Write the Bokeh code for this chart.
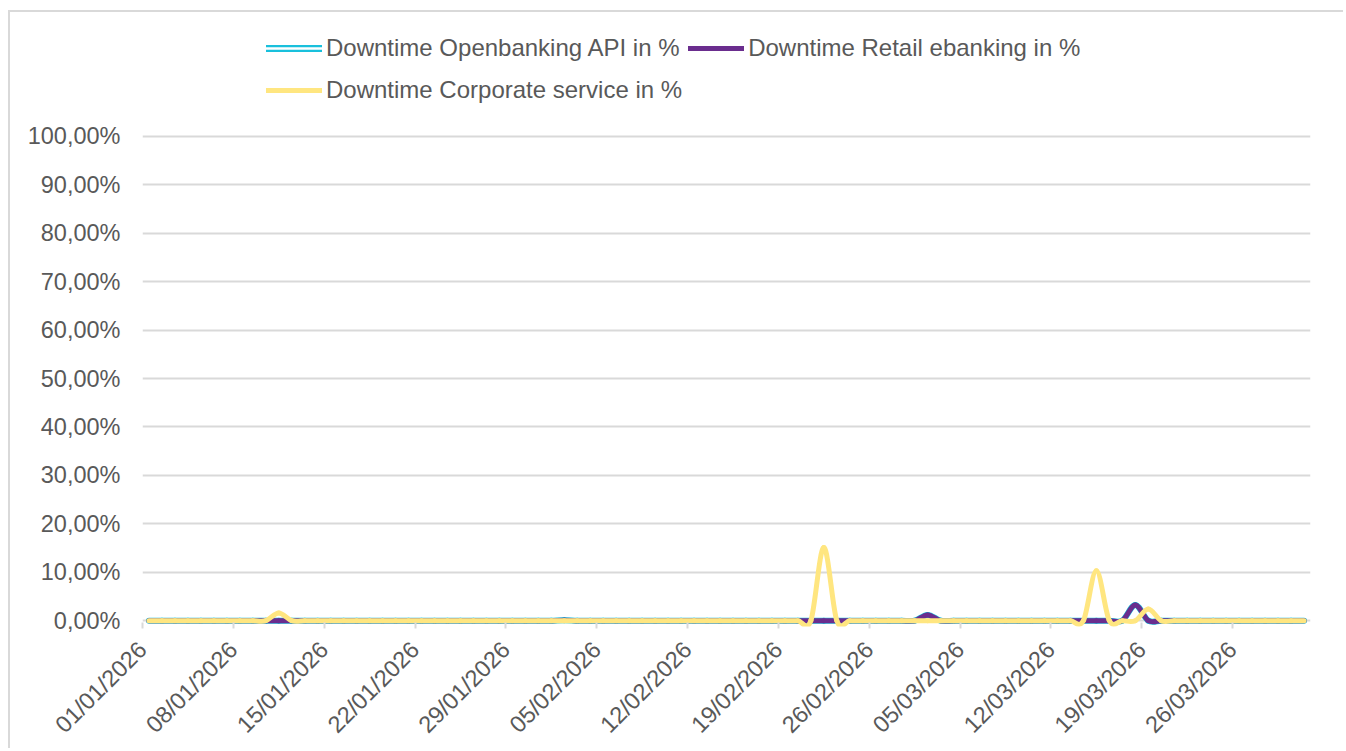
import math
import pandas as pd
from bokeh.plotting import figure
from bokeh.models import (Range1d, FixedTicker, CustomJSTickFormatter, Legend,
                          LegendItem, ColumnDataSource)
from bokeh.embed import file_html
from bokeh.resources import INLINE

# ---------------- data ----------------
dates = [d.strftime("%d/%m/%Y") for d in pd.date_range("2026-01-01", "2026-03-31", freq="D")]

tick_labels = ["01/01/2026", "08/01/2026", "15/01/2026", "22/01/2026", "29/01/2026",
               "05/02/2026", "12/02/2026", "19/02/2026", "26/02/2026", "05/03/2026",
               "12/03/2026", "19/03/2026", "26/03/2026"]

# values in %
openbanking_api = [
    0, 0, 0, 0, 0, 0, 0, 0, 0, 0,
    0, 0, 0, 0, 0, 0, 0, 0, 0, 0,
    0, 0, 0, 0, 0, 0, 0, 0, 0, 0,
    0, 0, 0.1, 0, 0, 0, 0, 0, 0, 0,
    0, 0, 0, 0, 0, 0, 0, 0, 0, 0,
    0, 0, 0, 0, 0, 0, 0, 0, 0, 0,
    1.2, 0, 0, 0, 0, 0, 0, 0, 0, 0,
    0, 0, 0, 0, 0, 0, 3.25, 0, 0, 0,
    0, 0, 0, 0, 0, 0, 0, 0, 0, 0,
]
retail_ebanking = [
    0, 0, 0, 0, 0, 0, 0, 0, 0, 0,
    0, 0, 0, 0, 0, 0, 0, 0, 0, 0,
    0, 0, 0, 0, 0, 0, 0, 0, 0, 0,
    0, 0, 0.1, 0, 0, 0, 0, 0, 0, 0,
    0, 0, 0, 0, 0, 0, 0, 0, 0, 0,
    0, 0, 0, 0, 0, 0, 0, 0, 0, 0,
    1.2, 0, 0, 0, 0, 0, 0, 0, 0, 0,
    0, 0, 0, 0, 0, 0, 3.25, 0, 0, 0,
    0, 0, 0, 0, 0, 0, 0, 0, 0, 0,
]
corporate_service = [
    0, 0, 0, 0, 0, 0, 0, 0, 0, 0,
    1.6, 0, 0, 0, 0, 0, 0, 0, 0, 0,
    0, 0, 0, 0, 0, 0, 0, 0, 0, 0,
    0, 0, 0, 0, 0, 0, 0, 0, 0, 0,
    0, 0, 0, 0, 0, 0, 0, 0, 0, 0,
    0, 0, 15.1, 0, 0, 0, 0, 0, 0, 0,
    0, 0, 0, 0, 0, 0, 0, 0, 0, 0,
    0, 0, 0, 10.3, 0, 0, 0, 2.4, 0, 0,
    0, 0, 0, 0, 0, 0, 0, 0, 0, 0,
]

series_names = ["Downtime Openbanking API in %", "Downtime Retail ebanking in %",
                "Downtime Corporate service in %"]

CYAN = "#19C0DC"
PURPLE = "#6A2D8E"
YELLOW = "#FFE680"
TEXT = "#595959"
GRID = "#D9D9D9"
FONT = "Liberation Sans"


def smooth_source(vals):
    """Excel-like smoothed line as cubic Bezier segments (Catmull-Rom control points)."""
    n = len(vals)
    xs = [i + 0.5 for i in range(n)]          # centre of each day cell
    ex = [xs[0]] + xs + [xs[-1]]
    ey = [vals[0]] + list(vals) + [vals[-1]]
    d = dict(x0=[], y0=[], x1=[], y1=[], cx0=[], cy0=[], cx1=[], cy1=[])
    for i in range(n - 1):
        a, b, c, e = i, i + 1, i + 2, i + 3
        d["x0"].append(ex[b]); d["y0"].append(ey[b])
        d["x1"].append(ex[c]); d["y1"].append(ey[c])
        d["cx0"].append(ex[b] + (ex[c] - ex[a]) / 6.0)
        d["cy0"].append(ey[b] + (ey[c] - ey[a]) / 6.0)
        d["cx1"].append(ex[c] - (ex[e] - ex[b]) / 6.0)
        d["cy1"].append(ey[c] - (ey[e] - ey[b]) / 6.0)
    return ColumnDataSource(d)


p = figure(width=1335, height=738,
           x_range=Range1d(0, len(dates)), y_range=Range1d(-1.2, 125.6),
           output_backend="svg", toolbar_location=None,
           min_border_left=132, min_border_right=35,
           min_border_top=0, min_border_bottom=122)
p.styles = {"border-top": "2px solid #D9D9D9", "border-left": "2px solid #D9D9D9",
            "margin-top": "10px", "margin-left": "8px"}
p.outline_line_color = None
p.background_fill_color = "white"
p.border_fill_color = "white"

# grid
p.xgrid.visible = False
p.ygrid.ticker = FixedTicker(ticks=list(range(0, 101, 10)))
p.ygrid.grid_line_color = GRID
p.ygrid.grid_line_width = 2

# y axis
p.yaxis.ticker = FixedTicker(ticks=list(range(0, 101, 10)))
p.yaxis.formatter = CustomJSTickFormatter(code="return tick.toFixed(2).replace('.', ',') + '%';")
p.yaxis.axis_line_color = None
p.yaxis.major_tick_line_color = None
p.yaxis.minor_tick_line_color = None
p.yaxis.major_tick_in = 0
p.yaxis.major_tick_out = 0
p.yaxis.major_label_standoff = 22
p.yaxis.major_label_text_font = FONT
p.yaxis.major_label_text_font_size = "23.5px"
p.yaxis.major_label_text_color = TEXT

# x axis
tick_pos = [dates.index(t) for t in tick_labels]
p.xaxis.ticker = FixedTicker(ticks=tick_pos)
p.xaxis.major_label_overrides = {pos: lab for pos, lab in zip(tick_pos, tick_labels)}
p.xaxis.axis_line_color = None
p.xaxis.major_tick_line_color = GRID
p.xaxis.major_tick_line_width = 2
p.xaxis.major_tick_in = 4
p.xaxis.major_tick_out = 2
p.xaxis.minor_tick_line_color = None
p.xaxis.major_label_orientation = math.pi / 4
p.xaxis.major_label_standoff = 17
p.xaxis.major_label_text_font = FONT
p.xaxis.major_label_text_font_size = "23.5px"
p.xaxis.major_label_text_color = TEXT

# series
src_api = smooth_source(openbanking_api)
src_ret = smooth_source(retail_ebanking)
src_cor = smooth_source(corporate_service)
bz = dict(x0="x0", y0="y0", x1="x1", y1="y1", cx0="cx0", cy0="cy0", cx1="cx1", cy1="cy1")
p.bezier(source=src_api, line_color=CYAN, line_width=6, line_cap="round", **bz)
p.bezier(source=src_api, line_color="white", line_width=2, line_cap="round", **bz)
p.bezier(source=src_ret, line_color=PURPLE, line_width=5, line_cap="round", **bz)
p.bezier(source=src_cor, line_color=YELLOW, line_width=5, line_cap="round", **bz)

# legend proxies (a single undrawable point so the legend glyph is rendered)
nan = float("nan")
l_api_o = p.line(x=[nan], y=[nan], line_color=CYAN, line_width=7, line_cap="round")
l_api_i = p.line(x=[nan], y=[nan], line_color="white", line_width=2.5, line_cap="round")
l_ret = p.line(x=[nan], y=[nan], line_color=PURPLE, line_width=5, line_cap="round")
l_cor = p.line(x=[nan], y=[nan], line_color=YELLOW, line_width=5, line_cap="round")

legend = Legend(items=[
    LegendItem(label=series_names[0], renderers=[l_api_o, l_api_i]),
    LegendItem(label=series_names[1], renderers=[l_ret]),
    LegendItem(label=series_names[2], renderers=[l_cor]),
], location=(124, 518), orientation="horizontal", ncols=2)
legend.padding = 0
legend.margin = 0
legend.spacing = 6
legend.border_line_color = None
legend.background_fill_alpha = 0
legend.glyph_width = 56
legend.glyph_height = 36
legend.label_height = 36
legend.label_standoff = 4
legend.label_text_font = FONT
legend.label_text_font_size = "24px"
legend.label_text_color = TEXT
p.add_layout(legend, "center")

open("out.html", "w").write(file_html(p, INLINE))
